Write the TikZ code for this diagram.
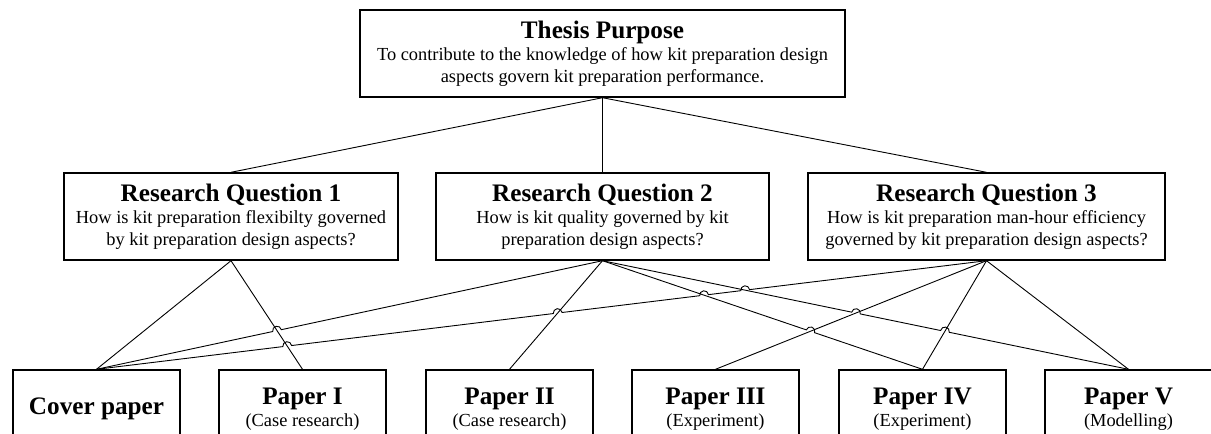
\documentclass[tikz,border=0pt]{standalone}
\usepackage{fontspec}
\setmainfont{Liberation Serif}
\usetikzlibrary{calc}

\newcommand{\kop}[1]{{\fontsize{12.6}{14}\selectfont\bfseries #1}}
\newcommand{\hopr}{2.2pt}
% small jump of a line over the crossing #1, heading for #2
\newcommand{\sprong}[2]{let \p{v}=($(#2)-(#1)$), \n{h}={atan2(\y{v},\x{v})} in
  -- ($(#1)!\hopr!180:(#2)$) arc[start angle=\n{h}+180, end angle=\n{h}, radius=\hopr]}

\begin{document}
\begin{tikzpicture}[x=0.5pt, y=-0.5pt,
    box/.style={draw, line width=0.7pt, align=center, inner sep=1pt,
                font=\fontsize{9.2}{11}\selectfont},
    rqbox/.style={box, minimum height=43.5pt},
    paperbox/.style={box, minimum width=83.5pt, minimum height=39pt},
    link/.style={line width=0.45pt}
  ]
  \useasboundingbox (0,0) rectangle (1211,434);
  \clip (0,0) rectangle (1211,434);

  % purpose and research questions
  \node[rqbox, minimum width=242.5pt] (purpose) at (602.5,53.5) {\kop{Thesis Purpose}\\To contribute to the knowledge of how kit preparation design\\aspects govern kit preparation performance.};
  \node[rqbox, minimum width=167pt] (rq1) at (231,216.5) {\kop{Research Question 1}\\How is kit preparation flexibilty governed\\by kit preparation design aspects?};
  \node[rqbox, minimum width=166.5pt] (rq2) at (602.5,216.5) {\kop{Research Question 2}\\How is kit quality governed by kit\\preparation design aspects?};
  \node[rqbox, minimum width=178.5pt] (rq3) at (986.5,216.5) {\kop{Research Question 3}\\How is kit preparation man-hour efficiency\\governed by kit preparation design aspects?};

  % papers
  \node[paperbox] (cover) at (96.5,409) {\kop{Cover paper}};
  \node[paperbox] (p1) at (302.5,409) {\kop{Paper I}\\(Case research)};
  \node[paperbox] (p2) at (509.5,409) {\kop{Paper II}\\(Case research)};
  \node[paperbox] (p3) at (715.5,409) {\kop{Paper III}\\(Experiment)};
  \node[paperbox] (p4) at (922.5,409) {\kop{Paper IV}\\(Experiment)};
  \node[paperbox] (p5) at (1128.5,409) {\kop{Paper V}\\(Modelling)};

  \draw[link] (purpose.south) -- (rq1.north);
  \draw[link] (purpose.south) -- (rq2.north);
  \draw[link] (purpose.south) -- (rq3.north);
  \draw[link] (rq1.south) -- (cover.north);
  \draw[link] (rq1.south) -- (p1.north);
  \draw[link] (rq2.south) -- (p2.north);
  \draw[link] (rq3.south) -- (p3.north);
  \draw[link] (rq3.south) -- (p4.north);
  \draw[link] (rq3.south) -- (p5.north);

  % crossings where a line jumps
  \coordinate (k1) at (intersection of cover.north--rq2.south and rq1.south--p1.north);
  \coordinate (k2) at (intersection of cover.north--rq3.south and rq1.south--p1.north);
  \coordinate (k3) at (intersection of cover.north--rq3.south and rq2.south--p2.north);
  \coordinate (k4) at (intersection of cover.north--rq3.south and rq2.south--p4.north);
  \coordinate (k5) at (intersection of cover.north--rq3.south and rq2.south--p5.north);
  \coordinate (k6) at (intersection of rq2.south--p4.north and rq3.south--p3.north);
  \coordinate (k7) at (intersection of rq2.south--p5.north and rq3.south--p3.north);
  \coordinate (k8) at (intersection of rq2.south--p5.north and rq3.south--p4.north);

  \draw[link] (cover.north) \sprong{k1}{rq2.south} -- (rq2.south);
  \draw[link] (cover.north) \sprong{k2}{rq3.south} \sprong{k3}{rq3.south}
    \sprong{k4}{rq3.south} \sprong{k5}{rq3.south} -- (rq3.south);
  \draw[link] (rq2.south) \sprong{k6}{p4.north} -- (p4.north);
  \draw[link] (rq2.south) \sprong{k7}{p5.north} \sprong{k8}{p5.north} -- (p5.north);
\end{tikzpicture}
\end{document}
